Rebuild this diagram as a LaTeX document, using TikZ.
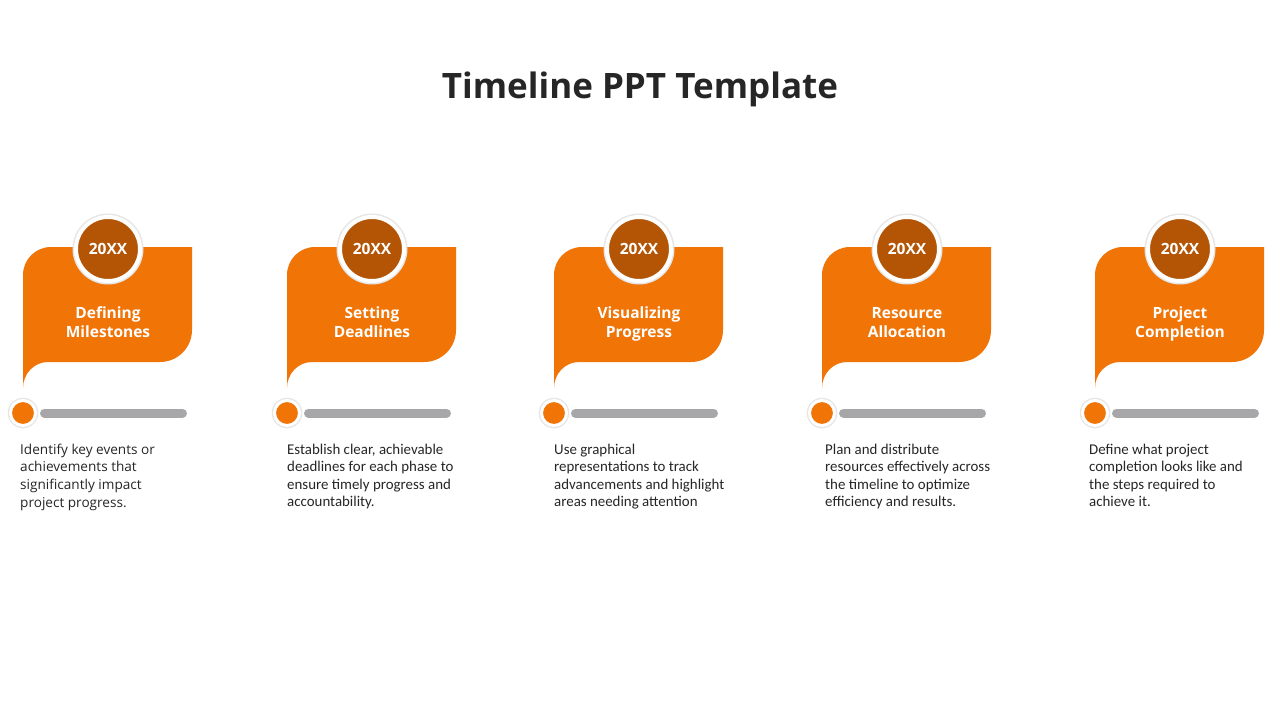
\documentclass[tikz,border=0pt]{standalone}
\usepackage{fontspec}
\setmainfont{Carlito}
\newfontfamily\osans{Open Sans}
\definecolor{tlorange}{HTML}{F07406}
\definecolor{tldark}{HTML}{B35505}
\definecolor{tlbar}{HTML}{A7A7AA}
\definecolor{tltext}{HTML}{262626}
\definecolor{tlshadow}{HTML}{E6E6E6}
\tikzset{
  cardshape/.style={fill=tlorange},
  yearcircle/.style={circle, fill=tldark, draw=white, line width=4pt, minimum size=64pt, inner sep=0pt,
     text=white, font=\osans\bfseries\fontsize{15.5}{18}\selectfont},
  cardtitle/.style={anchor=north, inner sep=0pt, align=center, text=white,
     font=\osans\bfseries\fontsize{15.5}{18.5}\selectfont},
  tldot/.style={circle, fill=tlorange, draw=white, line width=3pt, minimum size=25pt, inner sep=0pt},
  tlbarline/.style={draw=tlbar, line width=9pt, line cap=round},
  desc/.style={anchor=north west, inner sep=0pt, align=left, text=tltext,
     font=\fontsize{14.9}{17.4}\selectfont},
  descfirst/.style={desc, font=\osans\fontsize{13.6}{17.7}\selectfont},
  maintitle/.style={anchor=base, inner sep=0pt, text=tltext, font=\osans\bfseries\fontsize{35}{40}\selectfont}
}
% #1 card left x, #2 id, #3 title, #4 description x, #5 description, #6 description style
\newcommand{\tlcard}[6]{%
  \begin{scope}[shift={(#1,0)}]
    \fill[cardshape] (0,388) -- (0,275) .. controls (0,259.5) and (12.5,247) .. (28,247)
      -- (169,247) -- (169,330) .. controls (169,347.7) and (154.7,362) .. (137,362)
      -- (25,362) .. controls (11.2,362) and (0,373.6) .. (0,388) -- cycle;
    \fill[tlshadow] (85,249) circle (35.5);
    \node[yearcircle] (yr#2) at (85,249) {20XX};
    \node[cardtitle] (tt#2) at (85,306.3) {\rule{0pt}{12pt}#3};
    \fill[tlshadow] (0,413) circle (15.3);
    \node[tldot] (dot#2) at (0,413) {};
    \coordinate (bs#2) at (21.5,413);
    \coordinate (be#2) at (159.5,413);
    \draw[tlbarline] (bs#2) -- (be#2);
  \end{scope}
  \node[#6] (ds#2) at (#4,442) {\rule{0pt}{12pt}#5};
}
\begin{document}
\begin{tikzpicture}[x=1pt,y=-1pt]
  \useasboundingbox (0,0) rectangle (1280,720);
  \fill[white] (0,0) rectangle (1280,720);
  \node[maintitle] (title) at (640,98) {Timeline PPT Template};
  \tlcard{23}{a}{Defining\\Milestones}{20}{Identify key events or\\achievements that\\significantly impact\\project progress.}{descfirst}
  \tlcard{287}{b}{Setting\\Deadlines}{287}{Establish clear, achievable\\deadlines for each phase to\\ensure timely progress and\\accountability.}{desc}
  \tlcard{554}{c}{Visualizing\\Progress}{554}{Use graphical\\representations to track\\advancements and highlight\\areas needing attention}{desc}
  \tlcard{822}{d}{Resource\\Allocation}{825}{Plan and distribute\\resources effectively across\\the timeline to optimize\\efficiency and results.}{desc}
  \tlcard{1095}{e}{Project\\Completion}{1089}{Define what project\\completion looks like and\\the steps required to\\achieve it.}{desc}
\end{tikzpicture}
\end{document}
